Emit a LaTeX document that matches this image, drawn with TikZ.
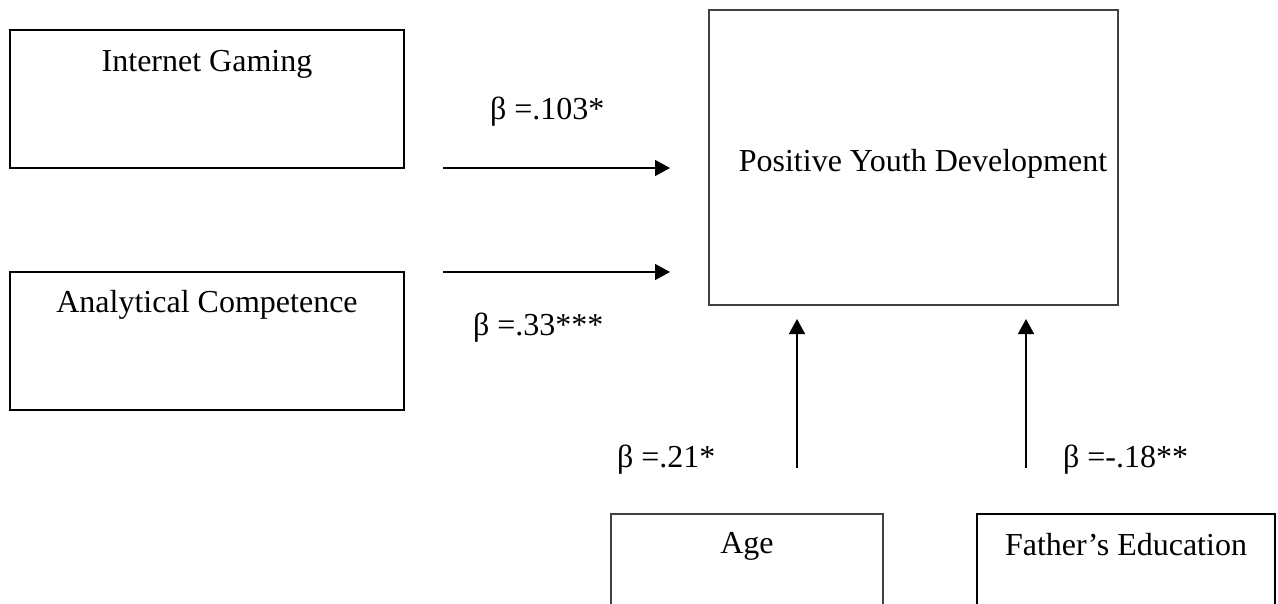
\documentclass[tikz,border=0pt]{standalone}
\usepackage{fontspec}
\setmainfont{Liberation Serif}
\usetikzlibrary{arrows.meta}
\definecolor{thinline}{HTML}{404040}
\begin{document}
\begin{tikzpicture}[x=0.5pt,y=-0.5pt,
  every node/.style={font=\fontsize{16pt}{19pt}\selectfont, inner sep=0pt, outer sep=0pt},
  thickbox/.style={draw=black, line width=1pt, rectangle, anchor=north west},
  thinbox/.style={draw=thinline, line width=0.6pt, rectangle, anchor=north west},
  boxtext/.style={anchor=base},
  coef/.style={anchor=base west},
  arr/.style={draw=black, line width=0.75pt, -{Triangle[length=7.5pt,width=8pt]}}
]
\useasboundingbox (0,0) rectangle (1278,604);
\clip (0,0) rectangle (1278,604);
% boxes
\node[thickbox, minimum width=197pt, minimum height=69pt] (ig) at (10,30) {};
\node[thickbox, minimum width=197pt, minimum height=69pt] (ac) at (10,272) {};
\node[thinbox, minimum width=204.5pt, minimum height=147.5pt] (pyd) at (709,10) {};
\node[thinbox, minimum width=136pt, minimum height=70pt] (age) at (611,514) {};
\node[thickbox, minimum width=149pt, minimum height=70pt] (fe) at (977,514) {};
% texts
\node[boxtext] (igt) at (207,72) {Internet Gaming};
\node[boxtext] (act) at (207,312) {Analytical Competence};
\node[boxtext] (pydt) at (923,172) {Positive Youth Development};
\node[boxtext] (aget) at (747,553) {Age};
\node[boxtext] (fet) at (1126,555) {Father’s Education};
% coefficients
\node[coef] (c1) at (490,120) {β =.103*};
\node[coef] (c2) at (473,335) {β =.33***};
\node[coef] (c3) at (617,467) {β =.21*};
\node[coef] (c4) at (1063,467) {β =-.18**};
% arrows
\coordinate (agex) at (797,0);
\coordinate (fex) at (1026,0);
\draw[arr, shorten <=19.5pt, shorten >=19.5pt] (ig.south east) -- (pyd.west |- ig.south east);
\draw[arr, shorten <=19.5pt, shorten >=19.5pt] (ac.north east) -- (pyd.west |- ac.north east);
\draw[arr, shorten <=23pt, shorten >=7pt] (age.north -| agex) -- (pyd.south -| agex);
\draw[arr, shorten <=23pt, shorten >=7pt] (fe.north -| fex) -- (pyd.south -| fex);
\end{tikzpicture}
\end{document}
